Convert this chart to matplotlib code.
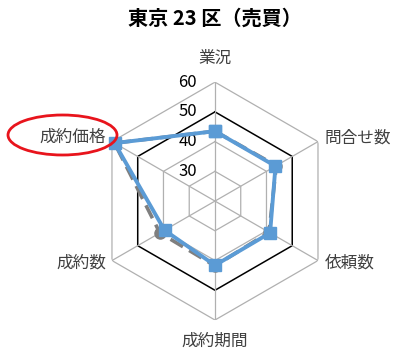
import numpy as np
import matplotlib
matplotlib.use("Agg")
import matplotlib.pyplot as plt
from matplotlib.patches import Ellipse

plt.rcParams['font.family'] = ['Noto Sans CJK JP', 'DejaVu Sans']

# データ
categories = ['業況', '問合せ数', '依頼数', '成約期間', '成約数', '成約価格']
current = [43.5, 43.5, 41.4, 41.6, 39.6, 59.0]    # 青・実線
previous = [43.5, 43.8, 41.0, 41.8, 41.4, 59.0]   # 灰・破線
rings = [30, 40, 50, 60]
title = '東京 23 区（売買）'

fig = plt.figure(figsize=(3.95, 3.54), dpi=100, facecolor='white')
ax = fig.add_axes([0.243, 0.096, 0.6025, 0.672], projection='polar')
ax.set_theta_offset(np.pi / 2)
ax.set_theta_direction(-1)
ax.set_rlim(20, 60)
ax.grid(False)
ax.set_xticks([])
ax.set_yticks([])
ax.spines['polar'].set_visible(False)
ax.patch.set_visible(False)

n = len(categories)
theta = np.arange(n) * 2 * np.pi / n
theta_c = np.append(theta, theta[0])

# 六角形のグリッド
for r in rings:
    if r == 50:
        ax.plot(theta_c, [r] * (n + 1), color='black', lw=1.1, zorder=1)
    else:
        ax.plot(theta_c, [r] * (n + 1), color='#b0b0b0', lw=0.9, zorder=1)
for t in theta:
    ax.plot([t, t], [20, 60], color='#b0b0b0', lw=0.9, zorder=1)

# 系列
ax.plot(theta_c, previous + previous[:1], color='#7f7f7f', lw=2.6,
        ls=(0, (4, 2)), marker='o', ms=8, zorder=3, clip_on=False)
ax.plot(theta_c, current + current[:1], color='#5b9bd5', lw=2.8,
        marker='s', ms=9, zorder=4, clip_on=False)

# 目盛ラベル
for r in rings:
    ax.annotate(str(r), (0, r), xytext=(-13, 0), textcoords='offset points',
                ha='right', va='center', fontsize=12, color='#000000')

# 項目ラベル
offsets = [(0, 17, 'center'), (5, 2.5, 'left'), (5, -2, 'left'),
           (0, -15, 'center'), (-4, -2, 'right'), (-4, 3, 'right')]
for t, lab, (dx, dy, ha) in zip(theta, categories, offsets):
    ax.annotate(lab, (t, 60), xytext=(dx, dy), textcoords='offset points',
                ha=ha, va='center', fontsize=12, color='#404040',
                annotation_clip=False)

fig.text(0.544, 0.949, title, ha='center', va='center', fontsize=14.5,
         fontweight='bold')

# 赤い楕円
fig.patches.append(Ellipse((62.5 / 395, 1 - 135 / 354), 109 / 395, 40 / 354,
                           transform=fig.transFigure, fill=False,
                           edgecolor='#e8141c', lw=2))

fig.savefig('out.png', dpi=100)
